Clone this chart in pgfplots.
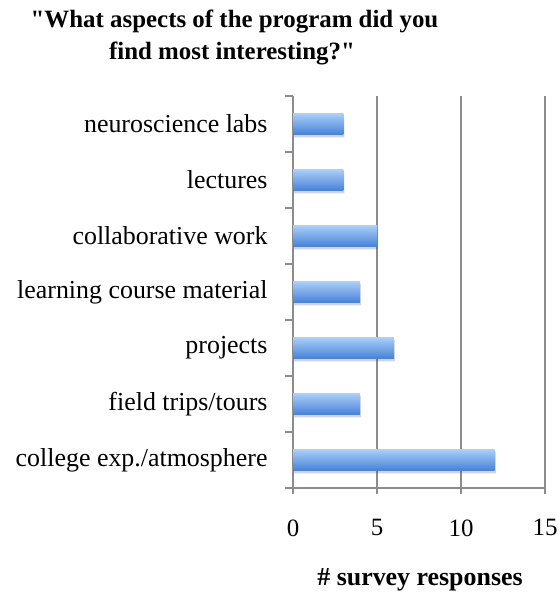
\documentclass[border=0pt]{standalone}
\usepackage{pgfplots}
\pgfplotsset{compat=1.18}
\usepackage{fontspec}
\setmainfont{Liberation Serif}
\newcommand\dq{\XeTeXglyph\XeTeXcharglyph"22\relax}
\definecolor{gridgray}{RGB}{140,140,140}
\definecolor{bartop}{RGB}{170,206,247}
\definecolor{barbot}{RGB}{70,130,215}
\pgfplotsset{mybar/.style={xbar, mark=none, bar width=21bp, bar shift=0pt, draw=none,
    top color=bartop, bottom color=barbot,
    preaction={fill=black, fill opacity=0.12, transform canvas={yshift=-2.5bp, xshift=1bp}}}}
\begin{document}
\begin{tikzpicture}
\useasboundingbox (0,0) rectangle (559bp,596bp);
\begin{axis}[
  at={(293bp,108bp)}, anchor=south west,
  scale only axis, width=252bp, height=392bp,
  xmin=0, xmax=15, ymin=-0.5, ymax=6.5, y dir=reverse,
  axis x line*=bottom, axis y line*=left,
  axis line style={gridgray, line width=1.2bp, -},
  tick align=outside,
  xtick={0,5,10,15},
  ytick={0,...,6},
  yticklabels={neuroscience labs, lectures, collaborative work, learning course material, projects, field trips/tours, college exp./atmosphere},
  minor ytick={-0.5,0.5,...,6.5},
  major tick length=6bp,
  minor tick length=8bp,
  major y tick style={draw=none},
  minor y tick style={gridgray, line width=1.2bp},
  major x tick style={gridgray, line width=1.2bp},
  xmajorgrids,
  major x grid style={gridgray, line width=1.2bp},
  /pgf/number format/assume math mode=true,
  xticklabel style={font=\fontsize{25}{30}\selectfont, yshift=-22bp},
  yticklabel style={font=\fontsize{26}{30}\selectfont, xshift=-16bp},
]
\addplot[mybar] coordinates {(3,0)};
\addplot[mybar] coordinates {(3,1)};
\addplot[mybar] coordinates {(5,2)};
\addplot[mybar] coordinates {(4,3)};
\addplot[mybar] coordinates {(6,4)};
\addplot[mybar] coordinates {(4,5)};
\addplot[mybar] coordinates {(12,6)};
\end{axis}
\node[anchor=base, font=\bfseries\fontsize{25}{30}\selectfont] at (234.5bp,568bp) {\dq What aspects of the program did you};
\node[anchor=base, font=\bfseries\fontsize{25}{30}\selectfont] at (232bp,536bp) {find most interesting?\dq};
\node[anchor=base, font=\bfseries\fontsize{26}{30}\selectfont] at (420bp,11bp) {\# survey responses};
\end{tikzpicture}
\end{document}
